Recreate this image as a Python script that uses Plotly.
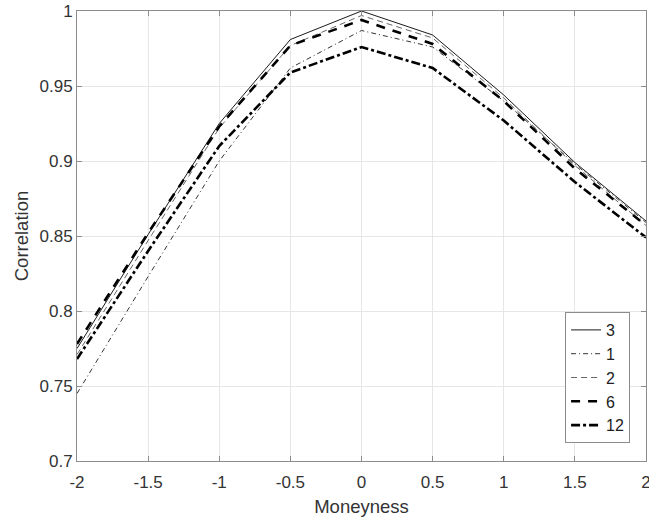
import plotly.graph_objects as go

moneyness = [-2, -1.5, -1, -0.5, 0, 0.5, 1, 1.5, 2]
s3 = [0.775, 0.851, 0.925, 0.981, 1.000, 0.984, 0.944, 0.899, 0.860]
s1 = [0.745, 0.823, 0.900, 0.962, 0.987, 0.976, 0.940, 0.898, 0.859]
s2 = [0.771, 0.847, 0.922, 0.977, 0.997, 0.982, 0.942, 0.897, 0.857]
s6 = [0.778, 0.852, 0.923, 0.977, 0.994, 0.978, 0.940, 0.895, 0.857]
s12 = [0.768, 0.840, 0.910, 0.959, 0.976, 0.962, 0.927, 0.886, 0.849]

names = ["3", "1", "2", "6", "12"]
series = [s3, s1, s2, s6, s12]
styles = [
    dict(color="black", width=0.9, dash="solid"),
    dict(color="black", width=0.8, dash="5px,3px,1px,3px"),
    dict(color="#555555", width=0.9, dash="6px,4px"),
    dict(color="black", width=2.6, dash="9px,8px"),
    dict(color="black", width=2.6, dash="9px,3px,3px,3px"),
]

xticks = [-2, -1.5, -1, -0.5, 0, 0.5, 1, 1.5, 2]
xticktext = ["-2", "-1.5", "-1", "-0.5", "0", "0.5", "1", "1.5", "2"]
yticks = [0.7, 0.75, 0.8, 0.85, 0.9, 0.95, 1.0]
yticktext = ["0.7", "0.75", "0.8", "0.85", "0.9", "0.95", "1"]

FONT = "Liberation Sans, Arial, sans-serif"

axis_common = dict(
    showline=True, linecolor="#8c8c8c", linewidth=1, mirror="ticks",
    ticks="inside", ticklen=5, tickcolor="#8c8c8c", tickwidth=1,
    showgrid=True, gridcolor="#e6e6e6", gridwidth=1, zeroline=False,
    automargin=False, ticklabeloverflow="allow",
    tickfont=dict(family=FONT, size=17, color="#333333"),
    title_font=dict(family=FONT, size=18.5, color="#333333"),
)

fig = go.Figure()
for n, s, st in zip(names, series, styles):
    fig.add_trace(go.Scatter(x=moneyness, y=s, mode="lines", name=n, line=st))

fig.update_layout(
    width=649, height=520,
    margin=dict(l=77, r=3, t=11, b=59),
    paper_bgcolor="white", plot_bgcolor="white",
    xaxis=dict(range=[-2, 2], tickvals=xticks, ticktext=xticktext,
               ticklabelstandoff=6,
               title=dict(text="Moneyness", standoff=8), **axis_common),
    yaxis=dict(range=[0.7, 1.0], tickvals=yticks, ticktext=yticktext,
               title=dict(text="Correlation", standoff=6), **axis_common),
    legend=dict(x=0.972, y=0.04, xanchor="right", yanchor="bottom",
                bgcolor="white", bordercolor="#8c8c8c", borderwidth=1,
                font=dict(family=FONT, size=16, color="#222222"),
                tracegroupgap=0, itemwidth=30),
    showlegend=True,
)

fig.write_html("out.html", config={"displayModeBar": False},
               post_script="document.body.style.margin='0';document.body.style.padding='0';")
